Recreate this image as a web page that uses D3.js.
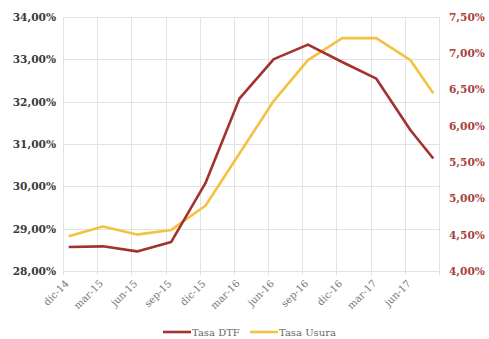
<!DOCTYPE html>
<html>
<head>
<meta charset="utf-8">
<script src="https://cdn.jsdelivr.net/npm/d3@7"></script>
<style>
  html, body { margin: 0; padding: 0; background: #fff; }
  svg { display: block; }
</style>
</head>
<body>
<div id="chart"></div>
<script>
// Quarterly observations, month offsets counted from December 2014
const months = [0, 3, 6, 9, 12, 15, 18, 21, 24, 27, 30, 32];
const tasaDTF = [4.33, 4.34, 4.27, 4.40, 5.21, 6.38, 6.92, 7.12, 6.88, 6.65, 5.94, 5.55];
const tasaUsura = [28.82, 29.05, 28.86, 28.97, 29.54, 30.78, 32.02, 32.98, 33.50, 33.50, 32.98, 32.20];

const tickMonths = [0, 3, 6, 9, 12, 15, 18, 21, 24, 27, 30];
const tickLabels = ["dic-14", "mar-15", "jun-15", "sep-15", "dic-15", "mar-16",
                    "jun-16", "sep-16", "dic-16", "mar-17", "jun-17"];
const leftTicks = [28, 29, 30, 31, 32, 33, 34];
const rightTicks = [4, 4.5, 5, 5.5, 6, 6.5, 7, 7.5];
const seriesNames = ["Tasa DTF", "Tasa Usura"];

const W = 489, H = 339;
const plot = { left: 63, right: 439, top: 17, bottom: 271 };
const serif = "'DejaVu Serif', serif";
const colDTF = "#a3322f", colUsura = "#f4c140";

const svg = d3.select("#chart").append("svg").attr("width", W).attr("height", H);

const x = d3.scaleLinear().domain([0, 33]).range([plot.left, plot.right]);
const yL = d3.scaleLinear().domain([28, 34]).range([plot.bottom, plot.top]);
const yR = d3.scaleLinear().domain([4, 7.5]).range([plot.bottom, plot.top]);
const fmt = v => d3.format(".2f")(v).replace(".", ",") + "%";

// grid
const grid = svg.append("g").attr("stroke", "#e2e2e2").attr("stroke-width", 1);
grid.selectAll("line.h").data(leftTicks).join("line")
  .attr("x1", plot.left).attr("x2", plot.right)
  .attr("y1", d => Math.round(yL(d)) + 0.5).attr("y2", d => Math.round(yL(d)) + 0.5);
grid.selectAll("line.v").data(tickMonths.concat([33])).join("line")
  .attr("x1", d => Math.round(x(d)) + 0.5).attr("x2", d => Math.round(x(d)) + 0.5)
  .attr("y1", plot.top).attr("y2", plot.bottom + 4);

// left axis
const axL = svg.append("g").attr("transform", `translate(${plot.left - 7},0)`)
  .call(d3.axisLeft(yL).tickValues(leftTicks).tickFormat(fmt).tickSize(0).tickPadding(0));
axL.select(".domain").remove();
axL.selectAll("text").attr("font-family", serif).attr("font-weight", "bold")
  .attr("font-size", 10.6).attr("fill", "#3a3a3a");

// right axis
const axR = svg.append("g").attr("transform", `translate(${plot.right + 10},0)`)
  .call(d3.axisRight(yR).tickValues(rightTicks).tickFormat(fmt).tickSize(0).tickPadding(0));
axR.select(".domain").remove();
axR.selectAll("text").attr("font-family", serif).attr("font-weight", "bold")
  .attr("font-size", 10.6).attr("fill", "#a8403c");

// bottom axis labels
const axB = svg.append("g").attr("transform", `translate(0,${plot.bottom})`)
  .call(d3.axisBottom(x).tickValues(tickMonths).tickFormat((d, i) => tickLabels[i]).tickSize(0));
axB.select(".domain").remove();
axB.selectAll("text")
  .attr("font-family", serif).attr("font-size", 10).attr("fill", "#777")
  .attr("text-anchor", "end").attr("dy", 0)
  .attr("transform", "translate(4,11) rotate(-45)");

// series
const pts = (vals, y) => months.map((mo, i) => [x(mo + 0.5), y(vals[i])]);
const line = d3.line();
svg.append("path").attr("d", line(pts(tasaUsura, yL)))
  .attr("fill", "none").attr("stroke", colUsura).attr("stroke-width", 2.6)
  .attr("stroke-linejoin", "round");
svg.append("path").attr("d", line(pts(tasaDTF, yR)))
  .attr("fill", "none").attr("stroke", colDTF).attr("stroke-width", 2.6)
  .attr("stroke-linejoin", "round");

// legend
const legend = svg.append("g").attr("transform", "translate(163,332)");
const items = [{ name: seriesNames[0], color: colDTF, dx: 0 }, { name: seriesNames[1], color: colUsura, dx: 87 }];
const li = legend.selectAll("g").data(items).join("g").attr("transform", d => `translate(${d.dx},0)`);
li.append("line").attr("x1", 0).attr("x2", 28).attr("y1", 0).attr("y2", 0)
  .attr("stroke", d => d.color).attr("stroke-width", 2.6);
li.append("text").attr("x", 29).attr("y", 3.5).text(d => d.name)
  .attr("font-family", serif).attr("font-size", 10).attr("fill", "#666");
</script>
</body>
</html>
